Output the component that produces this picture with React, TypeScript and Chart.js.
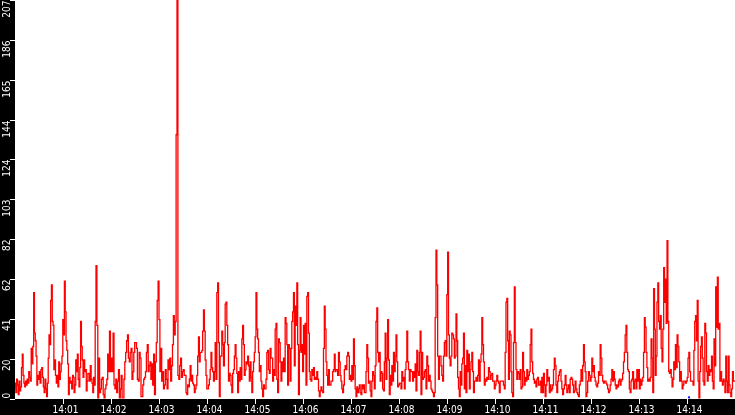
import React, { useEffect, useRef } from "react";
import { Chart, registerables } from "chart.js";

Chart.register(...registerables);

// Segment boundaries in seconds after 14:00:00 (each segment read separately)
const segmentStarts = [0, 101.25, 213.75, 326.25, 438.75, 551.25, 663.75, 776.25, 900];

const traffic1400 = [5, 8, 3, 10, 7, 2, 9, 4, 6, 16, 23, 12, 8, 6, 9, 7, 10, 8, 14, 11, 9, 26, 18, 27, 55, 34, 30, 22, 7, 12, 10, 14, 8, 15, 16, 11, 6, 3, 10, 5, 1, 8, 21, 33, 28, 51, 59, 40, 38, 15, 20, 12, 8, 12, 6, 19, 10, 14, 18, 22, 41, 33, 61, 45, 30, 25, 18, 2, 11, 8, 9, 5, 12, 11, 3, 7, 20, 14, 23, 10, 6, 16, 40, 27, 20, 11, 20, 14, 15, 4, 9, 13, 13, 9, 17, 10, 8, 3, 11, 7];
const traffic1401 = [40, 69, 38, 0, 21, 3, 5, 10, 11, 2, 0, 5, 7, 10, 23, 14, 35, 14, 21, 14, 34, 7, 5, 10, 3, 9, 15, 0, 5, 12, 0, 0, 10, 19, 24, 30, 33, 21, 19, 24, 26, 10, 14, 24, 29, 29, 26, 10, 9, 24, 21, 1, 1, 7, 10, 11, 14, 24, 28, 14, 17, 19, 10, 18, 7, 23, 2, 19, 29, 51, 61, 41, 14, 26, 9, 14, 5, 7, 15, 10, 5, 20, 15, 21, 9, 17, 28, 43, 33, 40, 137, 207, 12, 10, 17, 21, 11, 14, 15, 12];
const traffic1403 = [12, 3, 2, 7, 6, 10, 17, 9, 12, 8, 7, 3, 5, 7, 12, 22, 32, 19, 24, 24, 25, 35, 46, 35, 20, 12, 5, 5, 7, 10, 15, 24, 16, 14, 9, 14, 29, 10, 55, 60, 29, 1, 22, 22, 35, 28, 17, 29, 49, 50, 38, 28, 9, 13, 12, 7, 3, 13, 15, 22, 28, 21, 13, 3, 14, 9, 16, 10, 31, 38, 28, 12, 15, 19, 18, 22, 17, 9, 19, 11, 3, 14, 19, 24, 32, 55, 36, 31, 24, 14, 17, 9, 5, 1, 7, 5, 5, 10, 24, 25, 15, 13, 26, 21, 21, 9, 15, 12];
const traffic1405 = [36, 39, 10, 3, 31, 29, 19, 9, 19, 14, 21, 14, 42, 39, 28, 7, 28, 26, 9, 26, 40, 45, 55, 17, 48, 38, 60, 28, 2, 25, 42, 24, 28, 14, 38, 23, 39, 7, 53, 55, 34, 14, 10, 9, 15, 12, 16, 10, 11, 10, 14, 10, 4, 1, 4, 6, 4, 3, 26, 48, 36, 19, 12, 7, 15, 7, 7, 9, 9, 14, 15, 23, 14, 15, 15, 12, 24, 19, 12, 9, 5, 3, 7, 15, 17, 15, 22, 24, 22, 10, 12, 9, 17, 10, 31, 17, 5, 1, 6, 3, 5, 7, 3, 2, 7, 5, 7, 3];
const traffic1407 = [3, 14, 28, 21, 8, 9, 4, 1, 9, 14, 12, 5, 17, 40, 47, 24, 19, 24, 9, 14, 13, 5, 4, 19, 34, 10, 21, 41, 20, 2, 12, 7, 17, 9, 24, 14, 22, 33, 19, 6, 7, 8, 8, 5, 14, 9, 11, 5, 15, 19, 35, 19, 15, 9, 15, 14, 14, 9, 14, 11, 18, 4, 25, 14, 12, 24, 35, 2, 24, 10, 11, 14, 15, 5, 22, 17, 9, 12, 9, 5, 4, 3, 1, 3, 42, 77, 59, 22, 10, 22, 22, 17, 12, 9, 22, 29, 30, 22, 54, 76, 33, 21, 17, 22, 34, 33, 31, 21];
const traffic1409 = [22, 44, 30, 11, 5, 1, 14, 7, 18, 21, 34, 5, 17, 3, 25, 14, 23, 5, 15, 19, 24, 14, 3, 9, 9, 11, 9, 12, 20, 9, 19, 23, 42, 28, 19, 7, 10, 9, 11, 10, 16, 14, 10, 12, 13, 9, 9, 5, 7, 9, 12, 9, 8, 3, 9, 9, 9, 9, 7, 5, 24, 50, 52, 30, 10, 35, 33, 14, 3, 1, 29, 58, 29, 15, 10, 14, 13, 10, 15, 5, 6, 24, 14, 7, 11, 9, 15, 10, 12, 14, 28, 36, 19, 13, 10, 8, 9, 6, 10, 11, 7, 7, 9, 3, 11, 3, 13, 7];
const traffic1411 = [1, 7, 15, 9, 11, 3, 7, 4, 5, 7, 15, 21, 17, 7, 3, 9, 12, 14, 15, 9, 5, 2, 5, 7, 12, 7, 3, 5, 7, 3, 10, 11, 10, 7, 3, 4, 9, 5, 3, 2, 1, 7, 9, 15, 9, 17, 28, 19, 14, 1, 3, 9, 14, 12, 9, 11, 21, 14, 17, 11, 9, 7, 6, 8, 14, 12, 28, 21, 12, 9, 8, 9, 9, 8, 7, 5, 3, 4, 7, 10, 15, 9, 14, 10, 7, 5, 7, 6, 9, 10, 7, 9, 10, 13, 19, 24, 33, 38, 24, 15, 14, 5, 3, 9, 10, 14, 5, 9];
const traffic1413 = [10, 5, 15, 9, 15, 5, 10, 7, 9, 11, 24, 42, 37, 24, 16, 9, 10, 9, 11, 31, 21, 3, 57, 36, 12, 22, 50, 60, 40, 36, 43, 26, 19, 36, 68, 50, 62, 39, 82, 40, 14, 13, 15, 11, 6, 10, 19, 15, 28, 16, 33, 27, 19, 9, 14, 9, 5, 7, 9, 9, 8, 9, 11, 21, 24, 14, 9, 9, 9, 7, 25, 40, 43, 30, 51, 9, 0, 14, 27, 32, 21, 9, 7, 39, 34, 14, 9, 17, 12, 15, 14, 22, 9, 5, 31, 17, 58, 37, 63, 36, 39, 9, 14, 9, 7, 10, 9, 3, 22, 9, 3, 22, 7, 3, 1, 5, 14, 9];

const blueTimes = [842, 843, 844];
const blueValues = [0, 1, 0];

const yMax = 207;
const yTickLabels = ["0", "20", "41", "62", "82", "103", "124", "144", "165", "186", "207"];
const xTickLabels = ["14:01", "14:02", "14:03", "14:04", "14:05", "14:06", "14:07", "14:08", "14:09", "14:10", "14:11", "14:12", "14:13", "14:14"];

const FONT = '10px "DejaVu Sans Condensed", "DejaVu Sans", sans-serif';

const segments = [traffic1400, traffic1401, traffic1403, traffic1405, traffic1407, traffic1409, traffic1411, traffic1413];

function buildRedPoints() {
  const pts: { x: number; y: number }[] = [];
  segments.forEach((seg, k) => {
    const t0 = segmentStarts[k];
    const t1 = segmentStarts[k + 1];
    const dt = (t1 - t0) / seg.length;
    seg.forEach((v, j) => pts.push({ x: t0 + j * dt, y: v }));
  });
  const last = segments[segments.length - 1];
  pts.push({ x: segmentStarts[segmentStarts.length - 1], y: last[last.length - 1] });
  return pts;
}

const axesPlugin = {
  id: "blackAxes",
  afterDatasetsDraw(chart: any) {
    const { ctx, chartArea, width, height, scales } = chart;
    const left = chartArea.left;
    const bottom = chartArea.bottom;
    const stripTop = Math.ceil(bottom);
    ctx.save();
    ctx.fillStyle = "#000";
    ctx.fillRect(0, 0, left, height);
    ctx.fillRect(0, stripTop, width, height - stripTop);
    ctx.strokeStyle = "#fff";
    ctx.fillStyle = "#fff";
    ctx.lineWidth = 1;
    ctx.font = FONT;
    yTickLabels.forEach((label, k) => {
      const v = (yMax * k) / (yTickLabels.length - 1);
      const y = Math.round(scales.y.getPixelForValue(v)) + 0.5;
      ctx.beginPath();
      ctx.moveTo(left - 5, y);
      ctx.lineTo(left, y);
      ctx.stroke();
      const w = ctx.measureText(label).width;
      const start = Math.min(y + w, bottom);
      ctx.save();
      ctx.translate(10, start);
      ctx.rotate(-Math.PI / 2);
      ctx.textAlign = "left";
      ctx.textBaseline = "alphabetic";
      ctx.fillText(label, 0, 0);
      ctx.restore();
    });
    xTickLabels.forEach((label, k) => {
      const x = Math.round(scales.x.getPixelForValue(60 * (k + 1))) + 0.5;
      ctx.beginPath();
      ctx.moveTo(x, stripTop);
      ctx.lineTo(x, stripTop + 5);
      ctx.stroke();
      ctx.textAlign = "left";
      ctx.textBaseline = "alphabetic";
      ctx.fillText(label, x - 11, height - 2);
    });
    ctx.restore();
  },
};

export default function App() {
  const ref = useRef<HTMLCanvasElement | null>(null);
  useEffect(() => {
    document.body.style.margin = "0";
    const canvas = ref.current;
    if (!canvas) return;
    const chart = new Chart(canvas, {
      type: "line",
      data: {
        datasets: [
          {
            label: "traffic",
            data: buildRedPoints(),
            borderColor: "#ff0000",
            borderWidth: 1.3,
            pointRadius: 0,
            stepped: "after",
            fill: false,
            tension: 0,
          },
          {
            label: "other",
            data: blueTimes.map((t, i) => ({ x: t, y: blueValues[i] })),
            borderColor: "#0000ff",
            borderWidth: 1,
            pointRadius: 0,
            stepped: "after",
            fill: false,
          },
        ],
      },
      options: {
        animation: false,
        responsive: false,
        events: [],
        layout: { padding: 0 },
        plugins: { legend: { display: false }, tooltip: { enabled: false } },
        scales: {
          x: {
            type: "linear",
            min: 0,
            max: 900,
            ticks: { display: false },
            grid: { display: false },
            border: { display: false },
            afterFit: (s: any) => {
              s.height = 16.5;
            },
          },
          y: {
            type: "linear",
            min: 0,
            max: yMax,
            ticks: { display: false },
            grid: { display: false },
            border: { display: false },
            afterFit: (s: any) => {
              s.width = 15;
            },
          },
        },
      },
      plugins: [axesPlugin],
    });
    return () => chart.destroy();
  }, []);
  return (
    <div style={{ width: 735, height: 415, background: "#fff" }}>
      <canvas ref={ref} width={735} height={415} style={{ display: "block" }} />
    </div>
  );
}
